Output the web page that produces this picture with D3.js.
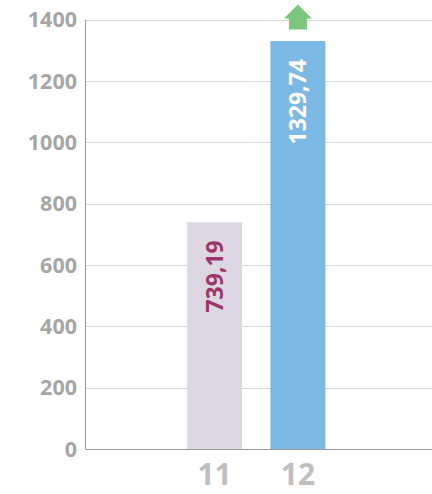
<!DOCTYPE html>
<html><head><meta charset="utf-8">
<script src="https://cdn.jsdelivr.net/npm/d3@7"></script>
<style>
html,body{margin:0;padding:0;background:#fff;}
svg{display:block;}
text{font-family:"Open Sans","DejaVu Sans",sans-serif;}
</style></head>
<body>
<svg id="chart" width="432" height="494"></svg>
<script>
const categories = ["11", "12"];
const values = [739.19, 1329.74];
const valueLabels = ["739,19", "1329,74"];
const yTicks = [0, 200, 400, 600, 800, 1000, 1200, 1400];

const W = 432, H = 494;
const svg = d3.select("#chart");
const m = {left: 85.5, right: 0, top: 19.5, bottom: 45};

const x = d3.scaleBand().domain(categories)
  .range([m.left, W])
  .paddingInner(0.34).paddingOuter(1.25).align(0.488);
const y = d3.scaleLinear().domain([0, 1400]).range([H - m.bottom, m.top]);

const barColors = ["#ddd7e3", "#7db9e5"];
const labelColors = ["#9b3767", "#ffffff"];

// gridlines
svg.append("g").selectAll("line").data(yTicks.filter(d => d > 0)).join("line")
  .attr("x1", m.left).attr("x2", W)
  .attr("y1", d => Math.round(y(d)) + 0.5).attr("y2", d => Math.round(y(d)) + 0.5)
  .attr("stroke", "#d9d9d9").attr("stroke-width", 1);

// y tick labels
svg.append("g").selectAll("text").data(yTicks).join("text")
  .attr("x", 77).attr("y", d => y(d))
  .attr("dy", "0.36em")
  .attr("text-anchor", "end")
  .attr("font-size", 21.5).attr("font-weight", 700)
  .attr("fill", "#a6a6a6")
  .text(d => d);

// bars
svg.append("g").selectAll("rect").data(values).join("rect")
  .attr("x", (d, i) => x(categories[i]))
  .attr("width", x.bandwidth())
  .attr("y", d => y(d))
  .attr("height", d => y(0) - y(d))
  .attr("fill", (d, i) => barColors[i]);

// axes lines
svg.append("line").attr("x1", m.left).attr("x2", m.left)
  .attr("y1", y(1400)).attr("y2", y(0) + 0.5)
  .attr("stroke", "#9a9a9a").attr("stroke-width", 1);
svg.append("line").attr("x1", m.left).attr("x2", W)
  .attr("y1", Math.round(y(0)) + 0.5).attr("y2", Math.round(y(0)) + 0.5)
  .attr("stroke", "#9a9a9a").attr("stroke-width", 1.2);

// value labels (rotated)
svg.append("g").selectAll("text").data(values).join("text")
  .attr("transform", (d, i) => `translate(${x(categories[i]) + x.bandwidth() / 2},${y(d) + 18}) rotate(-90)`)
  .attr("text-anchor", "end")
  .attr("dy", "0.36em")
  .attr("font-size", 23).attr("font-weight", 700)
  .attr("fill", (d, i) => labelColors[i])
  .text((d, i) => valueLabels[i]);

// category labels
svg.append("g").selectAll("text").data(categories).join("text")
  .attr("x", d => x(d) + x.bandwidth() / 2)
  .attr("y", 485)
  .attr("text-anchor", "middle")
  .attr("font-size", 30).attr("font-weight", 700)
  .attr("fill", "#bfbfbf")
  .text(d => d);

// green up arrow above the last bar
const lastCat = categories[categories.length - 1];
const cx = x(lastCat) + x.bandwidth() / 2;
const barTop = y(values[values.length - 1]);
const arrow = d3.path();
arrow.moveTo(cx, barTop - 36.5);
arrow.lineTo(cx + 14, barTop - 22.5);
arrow.lineTo(cx + 9, barTop - 22.5);
arrow.lineTo(cx + 9, barTop - 11.5);
arrow.lineTo(cx - 9, barTop - 11.5);
arrow.lineTo(cx - 9, barTop - 22.5);
arrow.lineTo(cx - 14, barTop - 22.5);
arrow.closePath();
svg.append("path").attr("d", arrow.toString()).attr("fill", "#7dc67e");
</script>
</body></html>
